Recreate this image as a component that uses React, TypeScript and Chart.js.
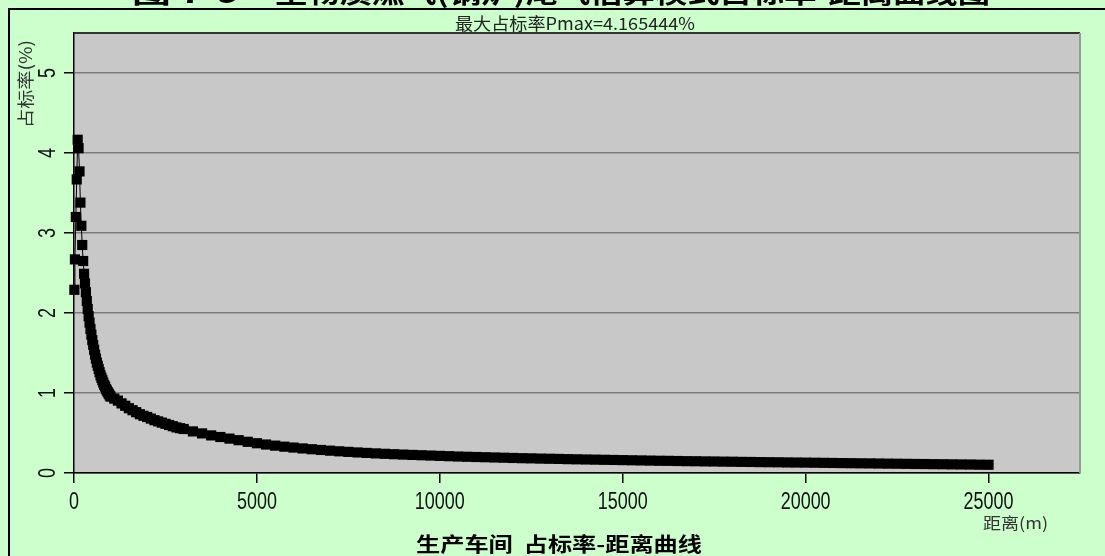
import React, { useEffect, useRef } from 'react';
import { Chart, registerables } from 'chart.js';

Chart.register(...registerables);

// distance (m)
const distances = [
  10, 25, 50, 75, 100, 125, 150, 175, 200, 225, 250, 275,
  300, 325, 350, 375, 400, 425, 450, 475, 500, 525, 550, 575, 600, 625, 650, 675, 700,
  725, 750, 775, 800, 825, 850, 875, 900, 925, 950, 975, 1000,
  1100, 1200, 1300, 1400, 1500, 1600, 1700, 1800, 1900, 2000,
  2100, 2200, 2300, 2400, 2500, 2600, 2700, 2800, 2900, 3000,
  3250, 3500, 3750, 4000, 4250, 4500, 4750, 5000,
  5250, 5500, 5750, 6000, 6250, 6500, 6750, 7000, 7250, 7500,
  7750, 8000, 8250, 8500, 8750, 9000, 9250, 9500, 9750, 10000,
  10250, 10500, 10750, 11000, 11250, 11500, 11750, 12000, 12250, 12500,
  12750, 13000, 13250, 13500, 13750, 14000, 14250, 14500, 14750, 15000,
  15250, 15500, 15750, 16000, 16250, 16500, 16750, 17000, 17250, 17500,
  17750, 18000, 18250, 18500, 18750, 19000, 19250, 19500, 19750, 20000,
  20250, 20500, 20750, 21000, 21250, 21500, 21750, 22000, 22250, 22500,
  22750, 23000, 23250, 23500, 23750, 24000, 24250, 24500, 24750, 25000,
];

// 占标率 (%)
const occupancy = [
  2.29, 2.67, 3.2, 3.67, 4.165444, 4.06, 3.77, 3.38, 3.09, 2.85, 2.65, 2.49,
  2.37, 2.26, 2.15, 2.05, 1.96, 1.88, 1.8, 1.73, 1.66, 1.6, 1.54, 1.48, 1.43, 1.38, 1.34, 1.3, 1.26,
  1.22, 1.19, 1.16, 1.13, 1.1, 1.08, 1.05, 1.03, 1.01, 0.99, 0.97, 0.955,
  0.93, 0.905, 0.87, 0.84, 0.81, 0.785, 0.76, 0.735, 0.715, 0.7,
  0.68, 0.66, 0.645, 0.63, 0.615, 0.6, 0.585, 0.57, 0.56, 0.55,
  0.52, 0.495, 0.47, 0.45, 0.43, 0.41, 0.39, 0.372,
  0.356, 0.342, 0.329, 0.318, 0.307, 0.297, 0.288, 0.279, 0.271, 0.264,
  0.257, 0.251, 0.245, 0.24, 0.235, 0.23, 0.226, 0.222, 0.218, 0.214,
  0.21, 0.206, 0.203, 0.2, 0.197, 0.194, 0.191, 0.188, 0.185, 0.183,
  0.18, 0.178, 0.176, 0.173, 0.171, 0.169, 0.167, 0.165, 0.163, 0.161,
  0.159, 0.157, 0.155, 0.153, 0.152, 0.15, 0.148, 0.147, 0.145, 0.144,
  0.142, 0.141, 0.139, 0.138, 0.136, 0.135, 0.134, 0.132, 0.131, 0.13,
  0.1285, 0.127, 0.1255, 0.124, 0.1225, 0.121, 0.12, 0.1185, 0.117, 0.116,
  0.1145, 0.113, 0.112, 0.1105, 0.1095, 0.108, 0.107, 0.106, 0.104, 0.103,
];

const xTicks = [0, 5000, 10000, 15000, 20000, 25000];
const yTicks = [0, 1, 2, 3, 4, 5];
const xTickLabels = ['0', '5000', '10000', '15000', '20000', '25000'];
const yTickLabels = ['0', '1', '2', '3', '4', '5'];

const pageTitleA = '图 7-9';
const pageTitleB = '生物质燃气(锅炉)尾气估算模式占标率-距离曲线图';
const subTitle = '最大占标率Pmax=4.165444%';
const yTitle = '占标率(%)';
const xTitle = '距离(m)';
const bottomTitle = '生产车间  占标率-距离曲线';

const CJK = '"Noto Sans CJK SC", "Noto Sans", sans-serif';
const NUM = '"Liberation Sans", Arial, sans-serif';

function fitText(
  ctx: CanvasRenderingContext2D,
  text: string,
  x: number,
  y: number,
  width: number,
  font: string,
  align: 'left' | 'center' | 'right',
  color: string
) {
  ctx.save();
  ctx.font = font;
  ctx.fillStyle = color;
  ctx.textBaseline = 'alphabetic';
  ctx.textAlign = 'left';
  const w = ctx.measureText(text).width;
  const s = width / w;
  const left = align === 'left' ? x : align === 'center' ? x - width / 2 : x - width;
  ctx.translate(left, y);
  ctx.scale(s, 1);
  ctx.fillText(text, 0, 0);
  ctx.restore();
}

function drawNum(ctx: CanvasRenderingContext2D, text: string, x: number, y: number, rotate: boolean) {
  ctx.save();
  ctx.translate(x, y);
  if (rotate) ctx.rotate(-Math.PI / 2);
  ctx.scale(0.78, 1);
  ctx.font = `23px ${NUM}`;
  ctx.fillStyle = '#111';
  ctx.textAlign = 'center';
  ctx.textBaseline = 'alphabetic';
  ctx.fillText(text, 0, 0);
  ctx.restore();
}

const decorPlugin = {
  id: 'decor',
  beforeDraw(chart: any) {
    const ctx: CanvasRenderingContext2D = chart.ctx;
    const { left, right, top, bottom } = chart.chartArea;
    ctx.save();
    ctx.fillStyle = '#CCFFCC';
    ctx.fillRect(0, 0, chart.width, chart.height);
    // cut-off page title
    fitText(ctx, pageTitleA, 132, 3, 108, `bold 26px ${CJK}`, 'left', '#000');
    fitText(ctx, pageTitleB, 275, 3, 715, `bold 26px ${CJK}`, 'left', '#000');
    // frame
    ctx.strokeStyle = '#000';
    ctx.lineWidth = 2;
    ctx.beginPath();
    ctx.moveTo(9, chart.height + 5);
    ctx.lineTo(9, 9);
    ctx.lineTo(chart.width + 5, 9);
    ctx.stroke();
    // plot background
    ctx.fillStyle = '#C8C8C8';
    ctx.fillRect(left, top, right - left, bottom - top);
    // subtitle
    fitText(ctx, subTitle, 575, 30, 240, `17px ${CJK}`, 'center', '#222');
    // y title
    ctx.save();
    ctx.translate(32, 84);
    ctx.rotate(-Math.PI / 2);
    fitText(ctx, yTitle, 0, 0, 88, `17px ${CJK}`, 'center', '#333');
    ctx.restore();
    // x title
    fitText(ctx, xTitle, 1048, 529, 65, `16px ${CJK}`, 'right', '#333');
    // bottom title
    fitText(ctx, bottomTitle, 416, 552, 286, `bold 20px ${CJK}`, 'left', '#000');
    ctx.restore();
  },
  afterDraw(chart: any) {
    const ctx: CanvasRenderingContext2D = chart.ctx;
    const { left, right, top, bottom } = chart.chartArea;
    ctx.save();
    ctx.strokeStyle = '#333';
    ctx.lineWidth = 2;
    ctx.beginPath();
    ctx.moveTo(left, top);
    ctx.lineTo(right, top);
    ctx.stroke();
    ctx.strokeStyle = '#999';
    ctx.beginPath();
    ctx.moveTo(right, top);
    ctx.lineTo(right, bottom);
    ctx.stroke();
    const xs = chart.scales.x;
    const ys = chart.scales.y;
    xs.ticks.forEach((t: any, i: number) => {
      drawNum(ctx, xTickLabels[i], xs.getPixelForValue(t.value), 509, false);
    });
    ys.ticks.forEach((t: any, i: number) => {
      drawNum(ctx, yTickLabels[i], 55, ys.getPixelForValue(t.value), true);
    });
    ctx.restore();
  },
};

export default function App() {
  const ref = useRef<HTMLCanvasElement | null>(null);
  useEffect(() => {
    if (!ref.current) return;
    const chart = new Chart(ref.current, {
      type: 'line',
      data: {
        datasets: [
          {
            data: distances.map((d, i) => ({ x: d, y: occupancy[i] })),
            borderColor: '#000',
            borderWidth: 1,
            pointStyle: 'rect',
            pointRadius: 7.2,
            pointBackgroundColor: '#000',
            pointBorderWidth: 0,
            pointHoverRadius: 7.2,
            tension: 0,
            clip: false as any,
          },
        ],
      },
      options: {
        responsive: false,
        animation: false,
        devicePixelRatio: 1,
        layout: { padding: { top: 33, right: 25, left: 0, bottom: 0 } },
        plugins: { legend: { display: false }, title: { display: false }, tooltip: { enabled: false } },
        scales: {
          x: {
            type: 'linear',
            min: 0,
            max: 27500,
            afterBuildTicks: (s: any) => {
              s.ticks = xTicks.map((v) => ({ value: v }));
            },
            afterFit: (s: any) => {
              s.height = 83;
            },
            ticks: { display: false },
            grid: { drawOnChartArea: false, drawTicks: true, tickLength: 10, tickColor: '#000', lineWidth: 1.5 },
            border: { color: '#000', width: 1.5 },
          },
          y: {
            type: 'linear',
            min: 0,
            max: 5.5,
            afterBuildTicks: (s: any) => {
              s.ticks = yTicks.map((v) => ({ value: v }));
            },
            afterFit: (s: any) => {
              s.width = 74;
            },
            ticks: { display: false },
            grid: { color: '#7c7c7c', lineWidth: 1.5, drawTicks: true, tickLength: 10, tickColor: '#000' },
            border: { color: '#000', width: 1.5 },
          },
        },
      },
      plugins: [decorPlugin],
    });
    return () => chart.destroy();
  }, []);
  return (
    <div style={{ position: 'fixed', left: 0, top: 0, width: 1105, height: 556, background: '#CCFFCC' }}>
      <canvas ref={ref} width={1105} height={556} style={{ display: 'block', width: 1105, height: 556 }} />
    </div>
  );
}
